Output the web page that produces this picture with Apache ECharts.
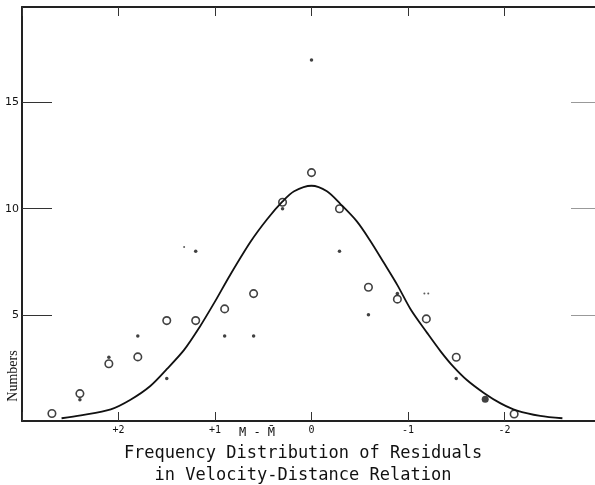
<!DOCTYPE html>
<html>
<head>
<meta charset="utf-8">
<script src="https://cdn.jsdelivr.net/npm/echarts@6/dist/echarts.min.js"></script>
<style>
html,body{margin:0;padding:0;background:#fff;}
#chart{width:595px;height:485px;}
</style>
</head>
<body>
<div id="chart"></div>
<script>
// Open circles
var openX = [2.69, 2.40, 2.10, 1.80, 1.50, 1.20, 0.90, 0.60, 0.30, 0.00, -0.29, -0.59, -0.89, -1.19, -1.50, -2.10];
var openY = [0.35, 1.29, 2.70, 3.02, 4.73, 4.73, 5.28, 6.00, 10.30, 11.70, 10.00, 6.30, 5.74, 4.81, 3.00, 0.33];
// Small filled dots
var dotX = [2.40, 2.10, 1.80, 1.50, 1.20, 0.90, 0.60, 0.30, 0.00, -0.29, -0.59, -0.89, -1.50];
var dotY = [1.0, 3.0, 4.0, 2.0, 8.0, 4.0, 4.0, 10.0, 17.0, 8.0, 5.0, 6.0, 2.0];
// Large filled dot
var bigX = [-1.80];
var bigY = [1.02];
// Tiny marks
var tinyX = [1.32, -1.17, -1.21];
var tinyY = [8.2, 6.0, 6.0];
// Fitted curve
var curveX = [2.59, 2.39, 2.08, 1.88, 1.67, 1.50, 1.32, 1.16, 1.01, 0.84, 0.63, 0.46, 0.30, 0.18, 0.00, -0.16, -0.30, -0.47, -0.61, -0.75, -0.89, -1.03, -1.20, -1.34, -1.47, -1.61, -1.79, -1.96, -2.13, -2.37, -2.60];
var curveY = [0.13, 0.27, 0.55, 0.99, 1.65, 2.44, 3.35, 4.42, 5.55, 6.90, 8.45, 9.50, 10.34, 10.82, 11.08, 10.82, 10.22, 9.40, 8.48, 7.45, 6.40, 5.24, 4.14, 3.27, 2.56, 1.93, 1.31, 0.83, 0.49, 0.24, 0.13];
// Tick positions and labels
var xTickValues = [3, 2, 1, 0, -1, -2, -3];
var xLabelValues = [2, 1, 0, -1, -2];
var xTickLabels = ['+2', '+1', '0', '-1', '-2'];
var yTickValues = [5, 10, 15];
var yTickLabels = ['5', '10', '15'];

function zip(a, b) { return a.map(function (v, i) { return [v, b[i]]; }); }

var chart = echarts.init(document.getElementById('chart'));
var ink = '#111';
var option = {
  backgroundColor: '#fff',
  animation: false,
  grid: { left: 22, top: 7, width: 579, height: 414, containLabel: false, outerBoundsMode: 'none' },
  xAxis: [{
    type: 'value', min: -3, max: 3, interval: 1, inverse: true, position: 'bottom',
    axisLine: { show: true, onZero: false, lineStyle: { color: '#222', width: 2 } },
    axisTick: { show: true, inside: true, length: 9, customValues: xTickValues, lineStyle: { color: '#333', width: 1 } },
    axisLabel: {
      margin: 4, color: ink, fontSize: 10, fontFamily: 'DejaVu Sans Mono', customValues: xLabelValues,
      formatter: function (v) { var i = xLabelValues.indexOf(v); return i < 0 ? '' : xTickLabels[i]; }
    },
    splitLine: { show: false }
  }, {
    type: 'value', min: -3, max: 3, interval: 1, inverse: true, position: 'top',
    axisLine: { show: true, onZero: false, lineStyle: { color: '#222', width: 2 } },
    axisTick: { show: true, inside: true, length: 9, customValues: xTickValues, lineStyle: { color: '#333', width: 1 } },
    axisLabel: { show: false },
    splitLine: { show: false }
  }],
  yAxis: [{
    type: 'value', min: 0, max: 19.5, interval: 5, position: 'left',
    axisLine: { show: true, onZero: false, lineStyle: { color: '#222', width: 2 } },
    axisTick: { show: true, inside: true, length: 30, customValues: yTickValues, lineStyle: { color: '#333', width: 1 } },
    axisLabel: {
      margin: 3, color: ink, fontSize: 11, fontFamily: 'DejaVu Sans', customValues: yTickValues,
      formatter: function (v) { var i = yTickValues.indexOf(v); return i < 0 ? '' : yTickLabels[i]; }
    },
    splitLine: { show: false }
  }, {
    type: 'value', min: 0, max: 19.5, interval: 5, position: 'right',
    axisLine: { show: false, onZero: false },
    axisTick: { show: true, inside: true, length: 30, customValues: yTickValues, lineStyle: { color: '#999', width: 1 } },
    axisLabel: { show: false },
    splitLine: { show: false }
  }],
  graphic: [
    { type: 'text', x: 13, y: 376, rotation: Math.PI / 2,
      style: { text: 'Numbers', font: '14px "Liberation Serif"', fill: ink, textAlign: 'center', textVerticalAlign: 'middle' } },
    { type: 'text', x: 257, y: 433,
      style: { text: 'M - M\u0304', font: '12px "DejaVu Sans Mono"', fill: ink, textAlign: 'center', textVerticalAlign: 'middle' } },
    { type: 'text', x: 303, y: 454,
      style: { text: 'Frequency Distribution of Residuals', font: '17px "DejaVu Sans Mono"', fill: ink, textAlign: 'center', textVerticalAlign: 'middle' } },
    { type: 'text', x: 303, y: 476,
      style: { text: 'in Velocity-Distance Relation', font: '17px "DejaVu Sans Mono"', fill: ink, textAlign: 'center', textVerticalAlign: 'middle' } }
  ],
  series: [
    { type: 'line', data: zip(curveX, curveY), smooth: 0.3, showSymbol: false, symbol: 'none',
      lineStyle: { color: ink, width: 1.8 }, z: 2 },
    { type: 'scatter', data: zip(openX, openY), symbol: 'circle', symbolSize: 7.5,
      itemStyle: { color: 'rgba(0,0,0,0)', borderColor: ink, borderWidth: 1.6 }, z: 3 },
    { type: 'scatter', data: zip(dotX, dotY), symbol: 'circle', symbolSize: 3.5,
      itemStyle: { color: ink }, z: 4 },
    { type: 'scatter', data: zip(bigX, bigY), symbol: 'circle', symbolSize: 7,
      itemStyle: { color: ink }, z: 4 },
    { type: 'scatter', data: zip(tinyX, tinyY), symbol: 'circle', symbolSize: 2,
      itemStyle: { color: '#333' }, z: 4 }
  ]
};
chart.setOption(option);
</script>
</body>
</html>
